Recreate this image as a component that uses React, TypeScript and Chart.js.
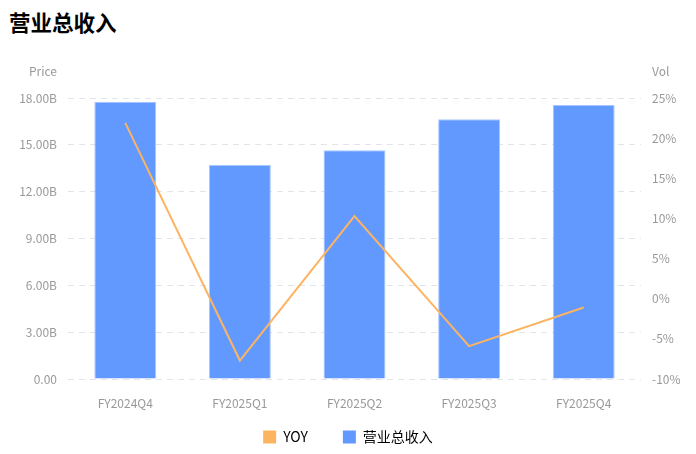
import { useEffect, useRef } from 'react';
import { Chart, registerables } from 'chart.js';

Chart.register(...registerables);

const FONT_FAMILY = '"Noto Sans CJK SC", "Noto Sans", sans-serif';

const quarters = ['FY2024Q4', 'FY2025Q1', 'FY2025Q2', 'FY2025Q3', 'FY2025Q4'];
// 营业总收入, in billions
const revenue = [17.76, 13.71, 14.65, 16.64, 17.55];
// YOY, percent
const yoy = [21.9, -7.7, 10.3, -5.9, -1.1];

const priceTicks = { min: 0, max: 18, step: 3 };
const volTicks = { min: -10, max: 25, step: 5 };

// draws the small "Price" / "Vol" captions above both y axes
const axisCaptions = {
  id: 'axisCaptions',
  afterDraw(chart: Chart) {
    const { ctx, chartArea } = chart;
    ctx.save();
    ctx.font = `12px ${FONT_FAMILY}`;
    ctx.fillStyle = '#999999';
    ctx.textBaseline = 'middle';
    ctx.textAlign = 'right';
    ctx.fillText('Price', chartArea.left - 11, chartArea.top - 27);
    ctx.textAlign = 'left';
    ctx.fillText('Vol', chartArea.right + 11, chartArea.top - 27);
    ctx.restore();
  },
};

function RevenueChart() {
  const canvasRef = useRef<HTMLCanvasElement>(null);
  const chartRef = useRef<Chart | null>(null);

  useEffect(() => {
    if (!canvasRef.current) return;
    const existing = Chart.getChart(canvasRef.current);
    if (existing) existing.destroy();
    chartRef.current?.destroy();

    chartRef.current = new Chart(canvasRef.current, {
      type: 'bar',
      data: {
        labels: quarters,
        datasets: [
          {
            type: 'line',
            label: 'YOY',
            data: yoy,
            yAxisID: 'y1',
            borderColor: '#FDB462',
            backgroundColor: '#FDB462',
            borderWidth: 2,
            pointRadius: 0,
            tension: 0,
            order: 0,
          },
          {
            type: 'bar',
            label: '营业总收入',
            data: revenue,
            yAxisID: 'y',
            backgroundColor: '#6199FF',
            borderColor: '#A8C6FF',
            borderWidth: 1,
            categoryPercentage: 1,
            barPercentage: 0.54,
            order: 1,
          },
        ] as any,
      },
      options: {
        responsive: true,
        maintainAspectRatio: false,
        animation: false,
        layout: { padding: { top: 98, left: 0, right: 0, bottom: 0 } },
        plugins: {
          tooltip: { enabled: false },
          legend: {
            position: 'bottom',
            labels: {
              font: { family: FONT_FAMILY, size: 14 },
              color: '#222222',
              boxWidth: 13,
              boxHeight: 13,
              padding: 35,
              generateLabels: (chart: Chart) =>
                chart.data.datasets.map((ds: any, i: number) => ({
                  text: ds.label,
                  fillStyle: ds.type === 'line' ? '#FDB462' : '#6199FF',
                  strokeStyle: 'transparent',
                  lineWidth: 0,
                  hidden: !chart.isDatasetVisible(i),
                  datasetIndex: i,
                })),
            },
          },
        },
        scales: {
          x: {
            // the legend's top padding overlaps the label band, so keep the box short
            // and let the labels draw past it
            afterFit: (scale: any) => {
              scale.height = 16;
              scale._computeLabelArea = () => undefined;
            },
            grid: { display: false, drawTicks: false },
            border: { display: false },
            ticks: { font: { family: FONT_FAMILY, size: 12 }, color: '#999999', padding: 17 },
          },
          y: {
            position: 'left',
            min: priceTicks.min,
            max: priceTicks.max,
            afterFit: (scale: any) => { scale.width = 68; },
            grid: { color: '#E3E3EA', drawTicks: false, lineWidth: 1 },
            border: { display: false, dash: [6, 5] },
            ticks: {
              stepSize: priceTicks.step,
              padding: 11,
              color: '#999999',
              font: { family: FONT_FAMILY, size: 12 },
              callback: (v: any) => (v === 0 ? '0.00' : `${Number(v).toFixed(2)}B`),
            },
          },
          y1: {
            position: 'right',
            min: volTicks.min,
            max: volTicks.max,
            afterFit: (scale: any) => { scale.width = 55; },
            grid: { display: false, drawTicks: false },
            border: { display: false },
            ticks: {
              stepSize: volTicks.step,
              padding: 11,
              color: '#999999',
              font: { family: FONT_FAMILY, size: 12 },
              callback: (v: any) => `${v}%`,
            },
          },
        },
      },
      plugins: [axisCaptions],
    });

    return () => { chartRef.current?.destroy(); chartRef.current = null; };
  }, []);

  return <canvas ref={canvasRef} />;
}

export default function App() {
  return (
    <div style={{ position: 'fixed', left: 0, top: 0, width: 696, height: 454, background: '#fff' }}>
      <div
        style={{
          position: 'absolute', left: 9, top: 8,
          fontFamily: FONT_FAMILY, fontSize: 21.5, fontWeight: 700, color: '#000',
          lineHeight: '28px',
        }}
      >
        营业总收入
      </div>
      <div style={{ position: 'absolute', left: 0, top: 0, width: 696, height: 454 }}>
        <RevenueChart />
      </div>
    </div>
  );
}
